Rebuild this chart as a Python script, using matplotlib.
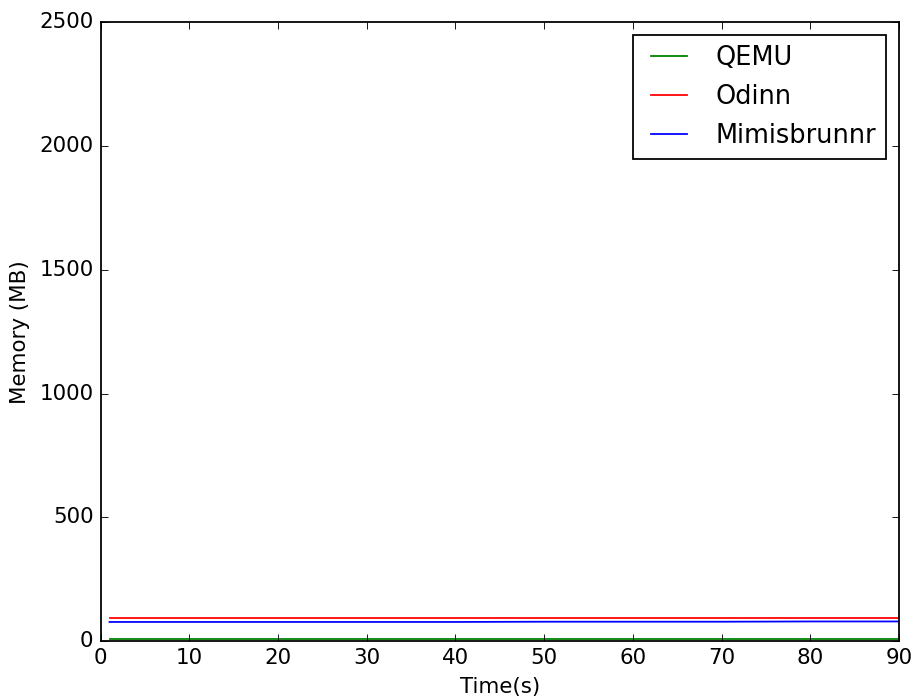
import matplotlib
matplotlib.use("Agg")
import matplotlib.pyplot as plt

plt.style.use('classic')

time_s = [1, 10, 20, 30, 40, 50, 60, 70, 80, 90]
qemu = [8, 8, 8, 8, 8, 8, 8, 8, 8, 8]
odinn = [92, 92, 92, 92, 92, 92, 92, 92, 92, 92]
mimisbrunnr = [77, 77, 77, 77, 77, 78, 78, 78, 79, 79]

DPI = 128
fig = plt.figure(figsize=(915 / DPI, 696 / DPI), dpi=DPI)
fig.patch.set_facecolor('white')
ax = fig.add_axes([0.110, 0.079, 0.8725, 0.889])

ax.plot(time_s, qemu, color='green', label='QEMU')
ax.plot(time_s, odinn, color='red', label='Odinn')
ax.plot(time_s, mimisbrunnr, color='blue', label='Mimisbrunnr')

ax.set_xlim(0, 90)
ax.set_ylim(0, 2500)
ax.set_xlabel('Time(s)')
ax.set_ylabel('Memory (MB)')
ax.legend(loc='upper right')

fig.savefig('out.png', dpi=DPI, facecolor='white')
